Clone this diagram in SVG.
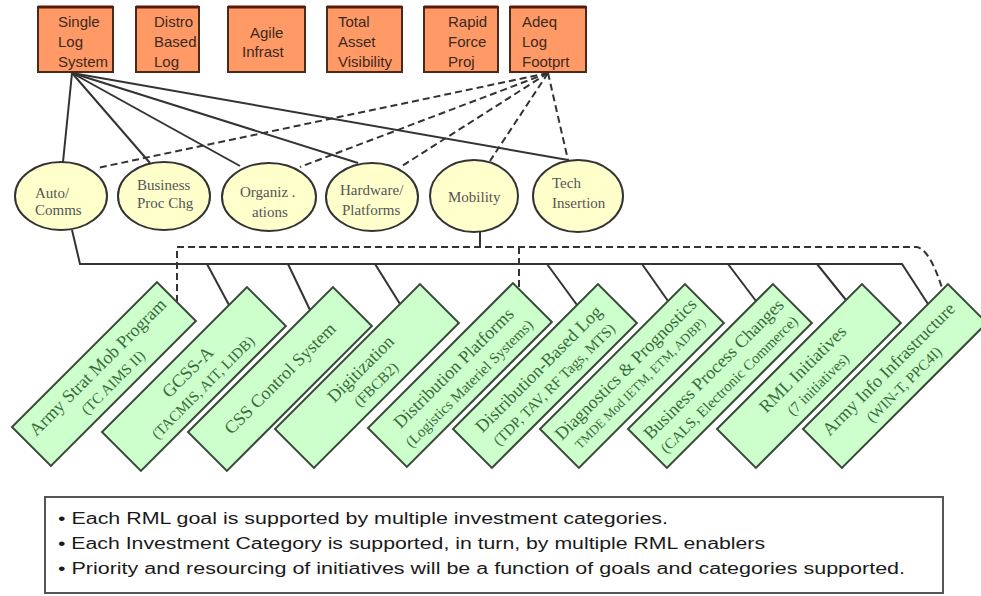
<svg xmlns="http://www.w3.org/2000/svg" width="981" height="596" viewBox="0 0 981 596">
<style>
.goal{fill:#FF9966;stroke:#4a2a1a;stroke-width:2}
.gtop{stroke:#5a1a0a;stroke-width:3}
.gt{font-family:"Liberation Sans",Arial,sans-serif;font-size:15px;fill:#3a2a20}
.cat{fill:#FFFFCC;stroke:#333;stroke-width:2}
.ct{font-family:"Liberation Serif","Times New Roman",serif;font-size:15px;fill:#555}
.en{fill:#CCFFCC;stroke:#3a4a3a;stroke-width:2}
.et{font-family:"Liberation Serif","Times New Roman",serif;font-size:18px;fill:#3a6b3a;text-anchor:middle}
.es{font-family:"Liberation Serif","Times New Roman",serif;font-size:15px;fill:#3a6b3a;text-anchor:middle}
.sl{fill:none;stroke:#333;stroke-width:2}
.dl{fill:none;stroke:#333;stroke-width:2;stroke-dasharray:7,4}
.nt{font-family:"Liberation Sans",Arial,sans-serif;font-size:16px;fill:#1a1a1a}
</style>
<rect width="981" height="596" fill="#ffffff"/>

<g id="connectors">
  <line class="sl" x1="72" y1="73" x2="63" y2="162"/>
  <line class="sl" x1="72" y1="73" x2="150" y2="163"/>
  <line class="sl" x1="72" y1="73" x2="240" y2="166"/>
  <line class="sl" x1="72" y1="73" x2="358" y2="163"/>
  <line class="sl" x1="72" y1="73" x2="568" y2="160"/>
  <line class="dl" x1="548" y1="73" x2="97" y2="168"/>
  <line class="dl" x1="548" y1="73" x2="300" y2="167"/>
  <line class="dl" x1="548" y1="73" x2="402" y2="166"/>
  <line class="dl" x1="548" y1="73" x2="490" y2="161"/>
  <line class="dl" x1="548" y1="73" x2="568" y2="160"/>
  <polyline class="sl" points="72,230 80,264 902,264 928,304"/>
  <line class="sl" x1="207" y1="264" x2="229" y2="305"/>
  <line class="sl" x1="288" y1="264" x2="310" y2="310"/>
  <line class="sl" x1="375" y1="264" x2="400" y2="304"/>
  <line class="sl" x1="547" y1="264" x2="577" y2="305"/>
  <line class="sl" x1="642" y1="264" x2="668" y2="301"/>
  <line class="sl" x1="728" y1="264" x2="756" y2="301"/>
  <line class="sl" x1="817" y1="264" x2="846" y2="300"/>
  <line class="sl" x1="480" y1="232" x2="480" y2="247"/>
  <path class="dl" d="M177,302 L177,247 L917,247 Q930,250 942,288"/>
  <line class="dl" x1="519" y1="247" x2="519" y2="289"/>
</g>

<g id="goal-single-log-system">
  <rect class="goal" x="38" y="7" width="75" height="65"/>
  <line class="gtop" x1="38" y1="7" x2="113" y2="7"/>
  <text class="gt" x="58" y="27">Single</text>
  <text class="gt" x="58" y="47">Log</text>
  <text class="gt" x="58" y="67">System</text>
</g>
<g id="goal-distro-based-log">
  <rect class="goal" x="136" y="7" width="63" height="65"/>
  <line class="gtop" x1="136" y1="7" x2="199" y2="7"/>
  <text class="gt" x="154" y="27">Distro</text>
  <text class="gt" x="154" y="47">Based</text>
  <text class="gt" x="154" y="67">Log</text>
</g>
<g id="goal-agile-infrast">
  <rect class="goal" x="228" y="7" width="77" height="65"/>
  <line class="gtop" x1="228" y1="7" x2="305" y2="7"/>
  <text class="gt" x="250" y="38">Agile</text>
  <text class="gt" x="242" y="57">Infrast</text>
</g>
<g id="goal-total-asset-visibility">
  <rect class="goal" x="327" y="7" width="75" height="65"/>
  <line class="gtop" x1="327" y1="7" x2="402" y2="7"/>
  <text class="gt" x="338" y="27">Total</text>
  <text class="gt" x="338" y="47">Asset</text>
  <text class="gt" x="338" y="67">Visibility</text>
</g>
<g id="goal-rapid-force-proj">
  <rect class="goal" x="424" y="7" width="74" height="65"/>
  <line class="gtop" x1="424" y1="7" x2="498" y2="7"/>
  <text class="gt" x="448" y="27">Rapid</text>
  <text class="gt" x="448" y="47">Force</text>
  <text class="gt" x="448" y="67">Proj</text>
</g>
<g id="goal-adeq-log-footprt">
  <rect class="goal" x="510" y="7" width="76" height="65"/>
  <line class="gtop" x1="510" y1="7" x2="586" y2="7"/>
  <text class="gt" x="522" y="27">Adeq</text>
  <text class="gt" x="522" y="47">Log</text>
  <text class="gt" x="522" y="67">Footprt</text>
</g>

<g id="cat-auto-comms">
  <ellipse class="cat" cx="61" cy="196" rx="46" ry="34"/>
  <text class="ct" x="35" y="198">Auto/</text>
  <text class="ct" x="35" y="215">Comms</text>
</g>
<g id="cat-business-proc-chg">
  <ellipse class="cat" cx="164" cy="196" rx="46" ry="34"/>
  <text class="ct" x="137" y="190">Business</text>
  <text class="ct" x="137" y="208">Proc Chg</text>
</g>
<g id="cat-organizations">
  <ellipse class="cat" cx="269" cy="197" rx="47" ry="34"/>
  <text class="ct" x="240" y="197">Organiz .</text>
  <text class="ct" x="252" y="217">ations</text>
</g>
<g id="cat-hardware-platforms">
  <ellipse class="cat" cx="372" cy="197" rx="46" ry="34"/>
  <text class="ct" x="340" y="195">Hardware/</text>
  <text class="ct" x="342" y="215">Platforms</text>
</g>
<g id="cat-mobility">
  <ellipse class="cat" cx="474" cy="196" rx="44" ry="36"/>
  <text class="ct" x="448" y="202">Mobility</text>
</g>
<g id="cat-tech-insertion">
  <ellipse class="cat" cx="578" cy="196" rx="45" ry="36"/>
  <text class="ct" x="552" y="188">Tech</text>
  <text class="ct" x="552" y="208">Insertion</text>
</g>

<g id="en-army-strat-mob" transform="translate(12,427) rotate(-45)">
  <rect class="en" width="205" height="55"/>
  <text class="et" x="103" y="24">Army Strat Mob Program</text>
  <text class="es" x="103" y="45">(TC AIMS II)</text>
</g>
<g id="en-gcss-a" transform="translate(102,432) rotate(-45)">
  <rect class="en" width="205" height="55"/>
  <text class="et" x="103" y="24">GCSS-A</text>
  <text class="es" x="103" y="45">(TACMIS, AIT, LIDB)</text>
</g>
<g id="en-css-control" transform="translate(188,432) rotate(-45)">
  <rect class="en" width="205" height="55"/>
  <text class="et" x="103" y="33">CSS Control System</text>
</g>
<g id="en-digitization" transform="translate(275,429) rotate(-45)">
  <rect class="en" width="205" height="55"/>
  <text class="et" x="103" y="24">Digitization</text>
  <text class="es" x="103" y="45">(FBCB2)</text>
</g>
<g id="en-distribution-platforms" transform="translate(368,428) rotate(-45)">
  <rect class="en" width="205" height="55"/>
  <text class="et" x="103" y="24">Distribution Platforms</text>
  <text class="es" x="103" y="45">(Logistics Materiel Systems)</text>
</g>
<g id="en-distribution-based-log" transform="translate(453,429) rotate(-45)">
  <rect class="en" width="205" height="55"/>
  <text class="et" x="103" y="24">Distribution-Based Log</text>
  <text class="es" x="103" y="45">(TDP, TAV, RF Tags, MTS)</text>
</g>
<g id="en-diagnostics" transform="translate(540,429) rotate(-45)">
  <rect class="en" width="205" height="55"/>
  <text class="et" x="103" y="24">Diagnostics &amp; Prognostics</text>
  <text class="es" x="103" y="43" style="font-size:13px">TMDE Mod IETM, ETM, ADBP)</text>
</g>
<g id="en-business-process" transform="translate(628,429) rotate(-45)">
  <rect class="en" width="205" height="55"/>
  <text class="et" x="103" y="24">Business Process Changes</text>
  <text class="es" x="103" y="45">(CALS, Electronic Commerce)</text>
</g>
<g id="en-rml-initiatives" transform="translate(717,429) rotate(-45)">
  <rect class="en" width="205" height="55"/>
  <text class="et" x="103" y="24">RML Initiatives</text>
  <text class="es" x="103" y="45">(7 initiatives)</text>
</g>
<g id="en-army-info" transform="translate(803,429) rotate(-45)">
  <rect class="en" width="205" height="55"/>
  <text class="et" x="103" y="24">Army Info Infrastructure</text>
  <text class="es" x="103" y="45">(WIN-T, PPC4I)</text>
</g>

<g id="notes">
  <rect x="45" y="497" width="898" height="96" fill="#ffffff" stroke="#555" stroke-width="2"/>
  <text class="nt" x="58" y="524" textLength="610" lengthAdjust="spacingAndGlyphs">• Each RML goal is supported by multiple investment categories.</text>
  <text class="nt" x="58" y="549" textLength="707" lengthAdjust="spacingAndGlyphs">• Each Investment Category is supported, in turn, by multiple RML enablers</text>
  <text class="nt" x="58" y="574" textLength="847" lengthAdjust="spacingAndGlyphs">• Priority and resourcing of initiatives will be a function of goals and categories supported.</text>
</g>
</svg>
